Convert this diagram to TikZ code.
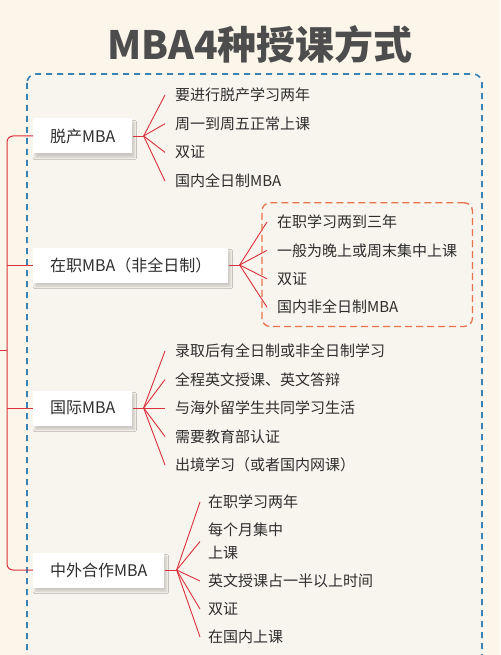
\documentclass[tikz,border=0pt]{standalone}
\usepackage{fontspec}
\setmainfont{Noto Sans CJK SC}
\usepackage{xcolor}
\usetikzlibrary{positioning,fit,shadows.blur}
\definecolor{paper}{HTML}{FCF5EA}
\definecolor{panel}{HTML}{F8F4EE}
\definecolor{frameblue}{HTML}{3A82B4}
\definecolor{fanred}{HTML}{D8323C}
\definecolor{notered}{HTML}{E8734D}
\definecolor{ink}{HTML}{2E2E2E}
\definecolor{titlegray}{HTML}{4D4D4D}
\tikzset{
    mainbox/.style={
        fill=white, anchor=west, inner xsep=17pt, inner ysep=0pt,
        minimum height=35pt, text=ink,
        font=\fontsize{16}{18}\selectfont,
        blur shadow={shadow xshift=2pt, shadow yshift=-4pt, shadow opacity=18, shadow blur steps=6}
    },
    itemtext/.style={
        anchor=west, inner sep=0pt, align=left, text=ink,
        font=\fontsize{15}{23}\selectfont
    },
    titletext/.style={
        text=titlegray, font=\fontsize{39}{40}\selectfont\bfseries
    },
    outerframe/.style={
        draw=frameblue, fill=panel, line width=1.6pt,
        dash pattern=on 6pt off 5pt, rounded corners=9pt
    },
    noteframe/.style={
        draw=notered, line width=1.3pt, dash pattern=on 7pt off 4pt,
        rounded corners=8pt, inner xsep=15pt, inner ysep=12pt
    },
    branchline/.style={draw=fanred, line width=1pt},
    fanline/.style={draw=fanred, line width=0.9pt},
}
\begin{document}
\begin{tikzpicture}[x=1pt, y=-1pt]
    \useasboundingbox[fill=paper] (0,0) rectangle (500,655);
    \draw[outerframe] (27,74) rectangle (482,720);
    \node[titletext] (title) at (260,44) {MBA4种授课方式};

    % four kinds
    \node[mainbox] (full) at (33,136) {脱产MBA};
    \node[mainbox] (part) at (33,265) {在职MBA（非全日制）};
    \node[mainbox] (intl) at (33,408) {国际MBA};
    \node[mainbox] (joint) at (33,570) {中外合作MBA};

    % left bracket
    \coordinate (root) at (0,350);
    \coordinate (spine) at (7,350);
    \draw[branchline] (root) -- (spine);
    \draw[branchline, rounded corners=6pt] (full.west) -| (spine) |- (joint.west);
    \draw[branchline] (part.west) -- (part.west -| spine);
    \draw[branchline] (intl.west) -- (intl.west -| spine);

    % hubs
    \coordinate[right=11pt of full] (hubfull);
    \coordinate[right=11pt of part] (hubpart);
    \coordinate[right=11pt of intl] (hubintl);
    \coordinate[right=12pt of joint] (hubjoint);
    \draw[fanline] (full) -- (hubfull);
    \draw[fanline] (part) -- (hubpart);
    \draw[fanline] (intl) -- (hubintl);
    \draw[fanline] (joint) -- (hubjoint);

    % items
    \foreach \txt [count=\i] in {要进行脱产学习两年, 周一到周五正常上课, 双证, 国内全日制MBA} {
        \node[itemtext] (full\i) at (175,{95+28.7*(\i-1)}) {\txt};
        \draw[fanline] (hubfull) -- ([xshift=-10pt]full\i.west);
    }
    \foreach \txt [count=\i] in {在职学习两到三年, 一般为晚上或周末集中上课, 双证, 国内非全日制MBA} {
        \node[itemtext] (part\i) at (277,{222+28.4*(\i-1)}) {\txt};
        \draw[fanline] (hubpart) -- ([xshift=-10pt]part\i.west);
    }
    \foreach \txt [count=\i] in {录取后有全日制或非全日制学习, 全程英文授课、英文答辩, 与海外留学生共同学习生活, 需要教育部认证, 出境学习（或者国内网课）} {
        \node[itemtext] (intl\i) at (175,{351+28.5*(\i-1)}) {\txt};
        \draw[fanline] (hubintl) -- ([xshift=-10pt]intl\i.west);
    }
    \foreach \txt/\ty [count=\i] in {在职学习两年/502, {每个月集中\\上课}/541.5, 英文授课占一半以上时间/581, 双证/609, 在国内上课/637} {
        \node[itemtext] (joint\i) at (208,\ty) {\txt};
        \draw[fanline] (hubjoint) -- ([xshift=-8pt]joint\i.west);
    }

    \node[noteframe, fit=(part1)(part2)(part4)] (partnote) {};
\end{tikzpicture}
\end{document}
